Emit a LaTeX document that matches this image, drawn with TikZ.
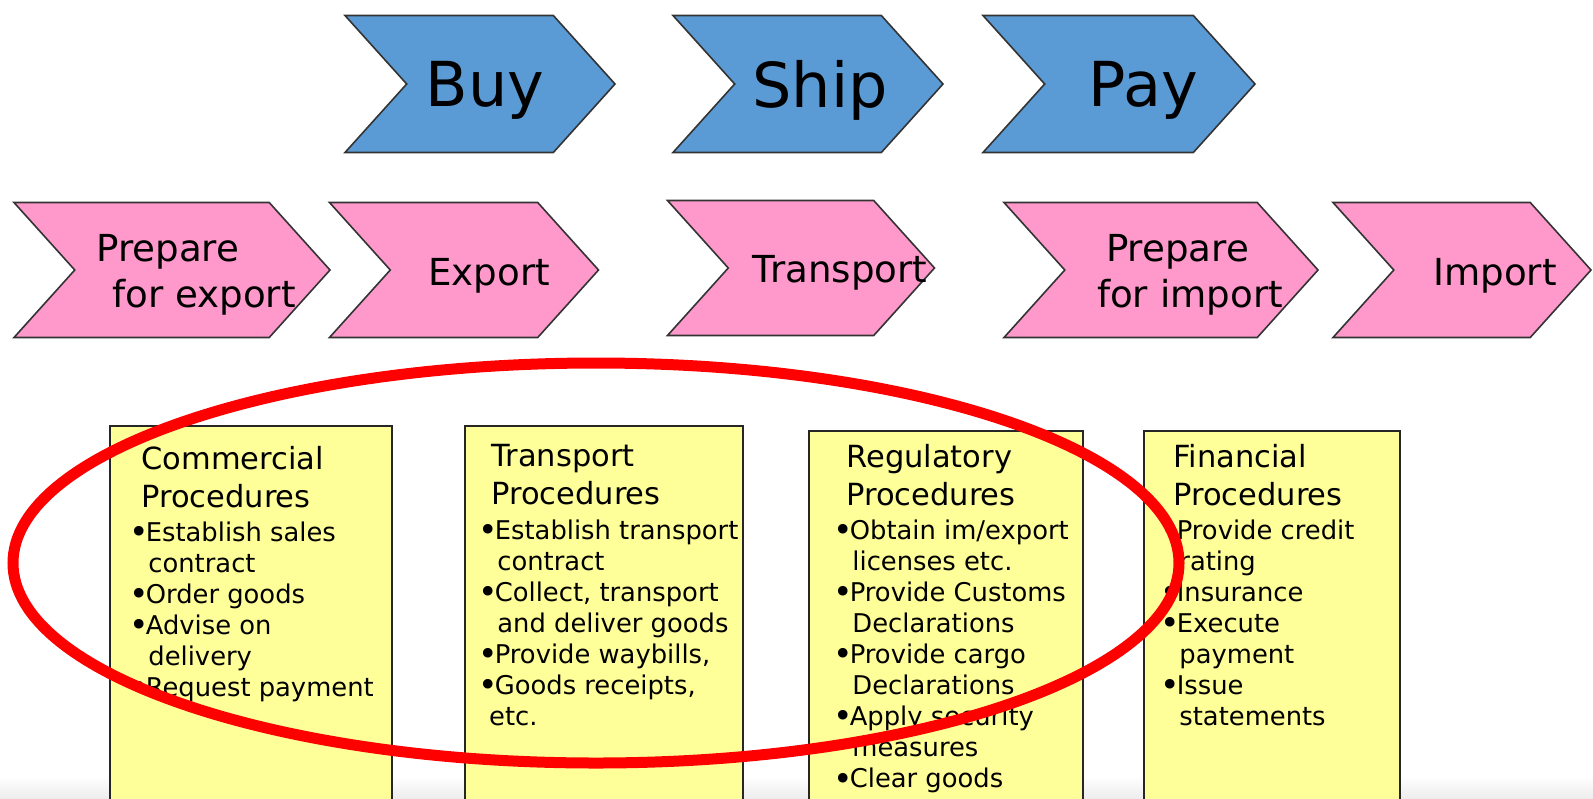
\documentclass[tikz,border=0pt]{standalone}
\usepackage{fontspec}
\setmainfont{DejaVu Sans}
\usetikzlibrary{shapes.symbols, positioning}

\definecolor{stepblue}{RGB}{91,155,213}
\definecolor{steppink}{RGB}{255,153,204}
\definecolor{noteyellow}{RGB}{255,255,153}

\newcommand{\contind}{\hspace*{0.62em}}
\newcommand{\itembul}{\makebox[0.52em][l]{\hspace*{-1.6pt}\raisebox{-0.09em}{\fontsize{16.5}{16.5}\selectfont•}}}

\tikzset{
  chevron/.style={signal, signal from=west, signal to=east, signal pointer angle=96,
    draw=black!80, line width=0.8pt, inner sep=0pt},
  bluestep/.style={chevron, fill=stepblue, minimum height=68.5pt},
  pinkstep/.style={chevron, fill=steppink, minimum height=67.5pt},
  bigword/.style={inner sep=0pt, font=\fontsize{31}{34}\selectfont},
  stepword/.style={inner sep=0pt, align=left, font=\fontsize{18.6}{23}\selectfont},
  notebox/.style={draw=black!85, line width=0.8pt, fill=noteyellow, anchor=north west,
    inner sep=0pt},
  boxtitle/.style={anchor=north west, inner sep=0pt, align=left,
    font=\fontsize{15.25}{18.8}\selectfont},
  boxlist/.style={anchor=north west, inner sep=0pt, align=left,
    font=\fontsize{12.9}{15.55}\selectfont},
  redring/.style={draw=red, line width=5.5pt}
}

\begin{document}
\begin{tikzpicture}[x=0.5pt, y=-0.5pt]
  \useasboundingbox (0,0) rectangle (1593,798);
  \clip (0,0) rectangle (1593,798);
  % faint band along the bottom
  \fill[top color=white, bottom color=black!7] (0,776) rectangle (1593,798);

  % Buy, Ship, Pay
  \node[bluestep, minimum width=135pt] (buy) at (480,84) {};
  \node[bluestep, minimum width=135pt] (ship) at (808,84) {};
  \node[bluestep, minimum width=136pt] (pay) at (1119,84) {};
  \node[bigword] (buyL) at ([xshift=2.5pt, yshift=-3pt]buy.center) {Buy};
  \node[bigword] (shipL) at ([xshift=6pt, yshift=-3pt]ship.center) {Ship};
  \node[bigword] (payL) at ([xshift=12pt, yshift=-3pt]pay.center) {Pay};

  % steps of the chain
  \node[pinkstep, minimum width=158pt] (prepexp) at (172,270) {};
  \node[pinkstep, minimum width=134.5pt] (export) at (464,270) {};
  \node[pinkstep, minimum width=133.5pt] (transp) at (801,268) {};
  \node[pinkstep, minimum width=157pt] (prepimp) at (1161,270) {};
  \node[pinkstep, minimum width=129pt] (import) at (1462,270) {};
  \node[stepword] (prepexpL) at ([xshift=12pt, yshift=-2.5pt]prepexp.center) {Prepare\\\hspace*{8pt}for export};
  \node[stepword] (exportL) at ([xshift=12.5pt, yshift=-3pt]export.center) {Export};
  \node[stepword] (transpL) at ([xshift=19.5pt, yshift=-2.5pt]transp.center) {Transport};
  \node[stepword] (prepimpL) at ([xshift=14.5pt, yshift=-2.5pt]prepimp.center) {\hspace*{4.5pt}Prepare\\for import};
  \node[stepword] (importL) at ([xshift=16.5pt, yshift=-3pt]import.center) {Import};

  % procedure boxes
  \node[notebox, minimum width=141pt, minimum height=203pt] (comm) at (109,425) {};
  \node[notebox, minimum width=139pt, minimum height=203pt] (trans) at (464,425) {};
  \node[notebox, minimum width=137pt, minimum height=200pt] (regul) at (808,430) {};
  \node[notebox, minimum width=128pt, minimum height=200pt] (finan) at (1143,430) {};

  \node[boxtitle] (commT) at (141,446) {Commercial\\Procedures};
  \node[boxlist] (commL) at (132,521) {\itembul Establish sales\\\contind contract\\\itembul Order goods\\\itembul Advise on\\\contind delivery\\\itembul Request payment};

  \node[boxtitle] (transT) at (491,444) {Transport\\Procedures};
  \node[boxlist] (transL) at (481,519) {\itembul Establish transport\\\contind contract\\\itembul Collect, transport\\\contind and deliver goods\\\itembul Provide waybills,\\\itembul Goods receipts,\\\hspace*{0.3em}etc.};

  \node[boxtitle] (regulT) at (846,444) {Regulatory\\Procedures};
  \node[boxlist] (regulL) at (836,519) {\itembul Obtain im/export\\\contind licenses etc.\\\itembul Provide Customs\\\contind Declarations\\\itembul Provide cargo\\\contind Declarations\\\itembul Apply security\\\contind measures\\\itembul Clear goods};

  \node[boxtitle] (finanT) at (1173,444) {Financial\\Procedures};
  \node[boxlist] (finanL) at (1163,519) {\itembul Provide credit\\\contind rating\\\itembul Insurance\\\itembul Execute\\\contind payment\\\itembul Issue\\\contind statements};

  % red ring round the first three boxes
  \draw[redring] (596,563) ellipse [x radius=583, y radius=200];
\end{tikzpicture}
\end{document}
